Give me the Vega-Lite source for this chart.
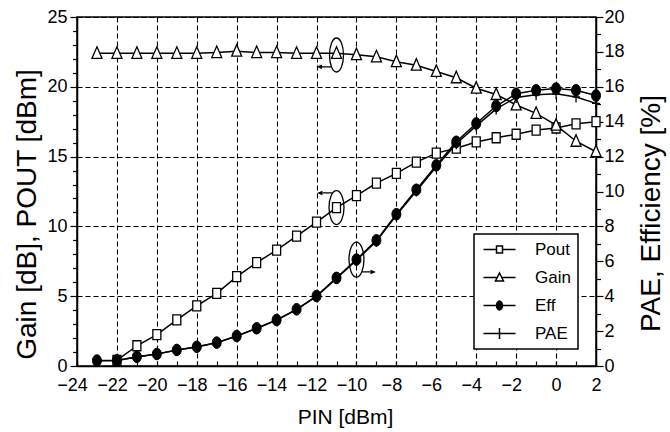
{
  "$schema": "https://vega.github.io/schema/vega-lite/v6.json",
  "width": 519,
  "height": 349,
  "autosize": {"type": "none"},
  "padding": {"left": 77, "top": 17, "right": 74, "bottom": 66},
  "background": "white",
  "data": {"values": [
    {"s":"Pout","pin":-22,"v":0.4},{"s":"Pout","pin":-21,"v":1.45},{"s":"Pout","pin":-20,"v":2.25},{"s":"Pout","pin":-19,"v":3.3},{"s":"Pout","pin":-18,"v":4.3},{"s":"Pout","pin":-17,"v":5.2},{"s":"Pout","pin":-16,"v":6.4},{"s":"Pout","pin":-15,"v":7.4},{"s":"Pout","pin":-14,"v":8.3},{"s":"Pout","pin":-13,"v":9.3},{"s":"Pout","pin":-12,"v":10.3},{"s":"Pout","pin":-11,"v":11.35},{"s":"Pout","pin":-10,"v":12.2},{"s":"Pout","pin":-9,"v":13.1},{"s":"Pout","pin":-8,"v":13.8},{"s":"Pout","pin":-7,"v":14.6},{"s":"Pout","pin":-6,"v":15.25},{"s":"Pout","pin":-5,"v":15.6},{"s":"Pout","pin":-4,"v":16.05},{"s":"Pout","pin":-3,"v":16.35},{"s":"Pout","pin":-2,"v":16.6},{"s":"Pout","pin":-1,"v":16.9},{"s":"Pout","pin":0,"v":17.05},{"s":"Pout","pin":1,"v":17.35},{"s":"Pout","pin":2,"v":17.5},
    {"s":"Gain","pin":-23,"v":22.4},{"s":"Gain","pin":-22,"v":22.4},{"s":"Gain","pin":-21,"v":22.4},{"s":"Gain","pin":-20,"v":22.4},{"s":"Gain","pin":-19,"v":22.4},{"s":"Gain","pin":-18,"v":22.4},{"s":"Gain","pin":-17,"v":22.45},{"s":"Gain","pin":-16,"v":22.55},{"s":"Gain","pin":-15,"v":22.45},{"s":"Gain","pin":-14,"v":22.45},{"s":"Gain","pin":-13,"v":22.4},{"s":"Gain","pin":-12,"v":22.4},{"s":"Gain","pin":-11,"v":22.4},{"s":"Gain","pin":-10,"v":22.3},{"s":"Gain","pin":-9,"v":22.15},{"s":"Gain","pin":-8,"v":21.8},{"s":"Gain","pin":-7,"v":21.55},{"s":"Gain","pin":-6,"v":21.1},{"s":"Gain","pin":-5,"v":20.65},{"s":"Gain","pin":-4,"v":19.9},{"s":"Gain","pin":-3,"v":19.45},{"s":"Gain","pin":-2,"v":18.7},{"s":"Gain","pin":-1,"v":18.1},{"s":"Gain","pin":0,"v":17.25},{"s":"Gain","pin":1,"v":16.1},{"s":"Gain","pin":2,"v":15.35},
    {"s":"Eff","pin":-23,"v":0.31},{"s":"Eff","pin":-22,"v":0.32},{"s":"Eff","pin":-21,"v":0.53},{"s":"Eff","pin":-20,"v":0.69},{"s":"Eff","pin":-19,"v":0.92},{"s":"Eff","pin":-18,"v":1.1},{"s":"Eff","pin":-17,"v":1.34},{"s":"Eff","pin":-16,"v":1.72},{"s":"Eff","pin":-15,"v":2.16},{"s":"Eff","pin":-14,"v":2.64},{"s":"Eff","pin":-13,"v":3.25},{"s":"Eff","pin":-12,"v":4.01},{"s":"Eff","pin":-11,"v":5.05},{"s":"Eff","pin":-10,"v":6.1},{"s":"Eff","pin":-9,"v":7.2},{"s":"Eff","pin":-8,"v":8.7},{"s":"Eff","pin":-7,"v":10.1},{"s":"Eff","pin":-6,"v":11.5},{"s":"Eff","pin":-5,"v":12.85},{"s":"Eff","pin":-4,"v":13.9},{"s":"Eff","pin":-3,"v":14.9},{"s":"Eff","pin":-2,"v":15.6},{"s":"Eff","pin":-1,"v":15.8},{"s":"Eff","pin":0,"v":15.9},{"s":"Eff","pin":1,"v":15.8},{"s":"Eff","pin":2,"v":15.5},
    {"s":"PAE","pin":-23,"v":0.3},{"s":"PAE","pin":-22,"v":0.31},{"s":"PAE","pin":-21,"v":0.52},{"s":"PAE","pin":-20,"v":0.68},{"s":"PAE","pin":-19,"v":0.91},{"s":"PAE","pin":-18,"v":1.09},{"s":"PAE","pin":-17,"v":1.33},{"s":"PAE","pin":-16,"v":1.71},{"s":"PAE","pin":-15,"v":2.15},{"s":"PAE","pin":-14,"v":2.63},{"s":"PAE","pin":-13,"v":3.23},{"s":"PAE","pin":-12,"v":3.99},{"s":"PAE","pin":-11,"v":5.02},{"s":"PAE","pin":-10,"v":6.06},{"s":"PAE","pin":-9,"v":7.15},{"s":"PAE","pin":-8,"v":8.64},{"s":"PAE","pin":-7,"v":10.03},{"s":"PAE","pin":-6,"v":11.41},{"s":"PAE","pin":-5,"v":12.74},{"s":"PAE","pin":-4,"v":13.76},{"s":"PAE","pin":-3,"v":14.73},{"s":"PAE","pin":-2,"v":15.39},{"s":"PAE","pin":-1,"v":15.54},{"s":"PAE","pin":0,"v":15.6},{"s":"PAE","pin":1,"v":15.42},{"s":"PAE","pin":2,"v":15.05}
  ]},
  "encoding": {
    "x": {
      "field": "pin", "type": "quantitative",
      "scale": {"domain": [-24, 2], "nice": false, "zero": false},
      "axis": {
        "orient": "bottom",
        "values": [-24,-23,-22,-21,-20,-19,-18,-17,-16,-15,-14,-13,-12,-11,-10,-9,-8,-7,-6,-5,-4,-3,-2,-1,0,1,2],
        "format": "d",
        "labelExpr": "datum.value % 2 === 0 ? datum.label : ''",
        "labelOverlap": false,
        "labelFlush": false,
        "labelOffset": {"condition": {"test": "datum.value < 0", "value": -5}, "value": 0},
        "tickSize": -5,
        "labelPadding": 15,
        "grid": true,
        "gridOpacity": {"condition": {"test": "datum.value % 2 === 0", "value": 1}, "value": 0},
        "title": "PIN [dBm]",
        "titleFontSize": 21,
        "titleX": 268,
        "titleY": 51,
        "titleBaseline": "middle",
        "titleAlign": "center"
      }
    }
  },
  "layer": [
    {
      "transform": [{"filter": "datum.s === 'Pout' || datum.s === 'Gain'"}],
      "encoding": {
        "y": {
          "field": "v", "type": "quantitative",
          "scale": {"domain": [0, 25], "nice": false, "zero": false},
          "axis": {
            "orient": "left",
            "values": [0,0.5,1,1.5,2,2.5,3,3.5,4,4.5,5,5.5,6,6.5,7,7.5,8,8.5,9,9.5,10,10.5,11,11.5,12,12.5,13,13.5,14,14.5,15,15.5,16,16.5,17,17.5,18,18.5,19,19.5,20,20.5,21,21.5,22,22.5,23,23.5,24,24.5,25],
            "format": "d",
            "labelExpr": "datum.value % 5 === 0 ? datum.label : ''",
            "labelOverlap": false,
            "tickSize": {"condition": {"test": "datum.value % 5 === 0", "value": 7}, "value": 4.5},
            "labelPadding": 3,
            "grid": true,
            "gridOpacity": {"condition": {"test": "datum.value % 2.5 === 0", "value": 1}, "value": 0},
            "title": "Gain [dB], POUT [dBm]",
            "titleAngle": -90,
            "titleX": -50,
            "titleY": 197,
            "titleAlign": "center",
            "titleBaseline": "middle"
          }
        }
      },
      "layer": [
        {"mark": {"type": "line", "color": "black", "strokeWidth": 1.5}, "encoding": {"detail": {"field": "s", "type": "nominal"}}},
        {"transform": [{"filter": "datum.s === 'Pout'"}], "mark": {"type": "point", "shape": "M-4,-5H4V5H-4Z", "size": 4, "filled": true, "fill": "white", "stroke": "black", "strokeWidth": 1.3, "opacity": 1}, "encoding": {}},
        {"transform": [{"filter": "datum.s === 'Gain'"}], "mark": {"type": "point", "shape": "M0,-6.5L5,5H-5Z", "size": 4, "filled": true, "fill": "white", "stroke": "black", "strokeWidth": 1.3, "opacity": 1}, "encoding": {}},
        {"transform": [{"filter": "datum.pin === -11"}], "mark": {"type": "point", "size": 4, "filled": false, "stroke": "black", "strokeWidth": 1.3, "opacity": 1},
         "encoding": {"shape": {"condition": {"test": "datum.s === 'Gain'", "value": "M-7,1.7A7,17 0 1,0 7,1.7A7,17 0 1,0 -7,1.7M-5,13.5H-15"}, "value": "M-7.5,0A7.5,17 0 1,0 7.5,0A7.5,17 0 1,0 -7.5,0M-4,-14.6H-14"}}},
        {"transform": [{"filter": "datum.pin === -11"}], "mark": {"type": "point", "size": 4, "filled": true, "fill": "black", "strokeWidth": 0, "opacity": 1},
         "encoding": {"shape": {"condition": {"test": "datum.s === 'Gain'", "value": "M-20,13.5L-14.5,11.2L-14.5,15.8Z"}, "value": "M-19.5,-14.6L-14,-16.9L-14,-12.3Z"}}},
        {"transform": [{"filter": "false"}], "mark": {"type": "point", "size": 4, "filled": true, "strokeWidth": 1.5, "opacity": 1},
         "encoding": {
           "shape": {"field": "s", "type": "nominal",
             "scale": {"domain": ["Pout", "Gain", "Eff", "PAE"], "range": ["M-16,0H-3M3,0H16M-3,-3.5H3V3.5H-3Z", "M-16,0H-2.2M2.2,0H16M0,-4.5L4,3.5H-4Z", "M-16,0H16M-3,0A3,4.5 0 1,0 3,0A3,4.5 0 1,0 -3,0", "M-16,0H16M0,-5.5V5.5"]},
             "legend": {"orient": "none", "legendX": 397, "legendY": 217, "title": null, "strokeColor": "black", "fillColor": "white", "padding": 7, "labelFontSize": 17, "labelColor": "black", "labelOffset": 27, "symbolOffset": 10, "rowPadding": 10, "symbolSize": 4, "symbolStrokeWidth": 1.5, "symbolStrokeColor": "black"}},
           "fill": {"field": "s", "type": "nominal",
             "scale": {"domain": ["Pout", "Gain", "Eff", "PAE"], "range": ["white", "white", "black", "white"]},
             "legend": {"orient": "none", "legendX": 397, "legendY": 217, "title": null, "strokeColor": "black", "fillColor": "white", "padding": 7, "labelFontSize": 17, "labelColor": "black", "labelOffset": 27, "symbolOffset": 10, "rowPadding": 10, "symbolSize": 4, "symbolStrokeWidth": 1.5, "symbolStrokeColor": "black"}},
           "stroke": {"field": "s", "type": "nominal",
             "scale": {"domain": ["Pout", "Gain", "Eff", "PAE"], "range": ["black", "black", "black", "black"]},
             "legend": {"orient": "none", "legendX": 397, "legendY": 217, "title": null, "strokeColor": "black", "fillColor": "white", "padding": 7, "labelFontSize": 17, "labelColor": "black", "labelOffset": 27, "symbolOffset": 10, "rowPadding": 10, "symbolSize": 4, "symbolStrokeWidth": 1.5, "symbolStrokeColor": "black"}}
         }}
      ]
    },
    {
      "transform": [{"filter": "datum.s === 'Eff' || datum.s === 'PAE'"}],
      "encoding": {
        "y": {
          "field": "v", "type": "quantitative",
          "scale": {"domain": [0, 20], "nice": false, "zero": false},
          "axis": {
            "orient": "right",
            "values": [0,1,2,3,4,5,6,7,8,9,10,11,12,13,14,15,16,17,18,19,20],
            "format": "d",
            "labelExpr": "datum.value % 2 === 0 ? datum.label : ''",
            "labelOverlap": false,
            "tickSize": {"condition": {"test": "datum.value % 2 === 0", "value": 7}, "value": 4.5},
            "labelPadding": 1,
            "grid": false,
            "title": "PAE, Efficiency [%]",
            "titleAngle": -90,
            "titleX": 55,
            "titleY": 196,
            "titleAlign": "center",
            "titleBaseline": "middle"
          }
        }
      },
      "layer": [
        {"mark": {"type": "line", "color": "black", "strokeWidth": 1.5}, "encoding": {"detail": {"field": "s", "type": "nominal"}}},
        {"transform": [{"filter": "datum.s === 'Eff'"}], "mark": {"type": "point", "shape": "M-4.5,0A4.5,5.8 0 1,0 4.5,0A4.5,5.8 0 1,0 -4.5,0", "size": 4, "filled": true, "fill": "black", "stroke": "black", "strokeWidth": 1, "opacity": 1}, "encoding": {}},
        {"transform": [{"filter": "datum.s === 'PAE'"}], "mark": {"type": "point", "shape": "M-4,0H4M0,-5.5V5.5", "size": 4, "filled": false, "stroke": "black", "strokeWidth": 1.3, "opacity": 1}, "encoding": {}},
        {"transform": [{"filter": "datum.s === 'Eff' && datum.pin === -10"}], "mark": {"type": "point", "size": 4, "filled": false, "stroke": "black", "strokeWidth": 1.3, "opacity": 1, "shape": "M-7.5,0A7.5,17.5 0 1,0 7.5,0A7.5,17.5 0 1,0 -7.5,0M5,12.4H14"}, "encoding": {}},
        {"transform": [{"filter": "datum.s === 'Eff' && datum.pin === -10"}], "mark": {"type": "point", "size": 4, "filled": true, "fill": "black", "strokeWidth": 0, "opacity": 1, "shape": "M19.5,12.4L14,10.1L14,14.7Z"}, "encoding": {}}
      ]
    }
  ],
  "resolve": {"scale": {"y": "independent"}},
  "config": {
    "font": "Liberation Sans",
    "view": {"stroke": "black", "strokeWidth": 1.5},
    "axis": {
      "domainColor": "black", "domainWidth": 1.5,
      "tickColor": "black", "tickWidth": 1.2,
      "labelColor": "black", "labelFontSize": 18, "labelFont": "Liberation Sans",
      "titleColor": "black", "titleFontSize": 28, "titleFontWeight": "normal", "titleFont": "Liberation Sans",
      "gridColor": "black", "gridDash": [5, 3], "gridWidth": 1.1
    },
    "legend": {"strokeWidth": 1.5, "labelFont": "Liberation Sans"}
  }
}
